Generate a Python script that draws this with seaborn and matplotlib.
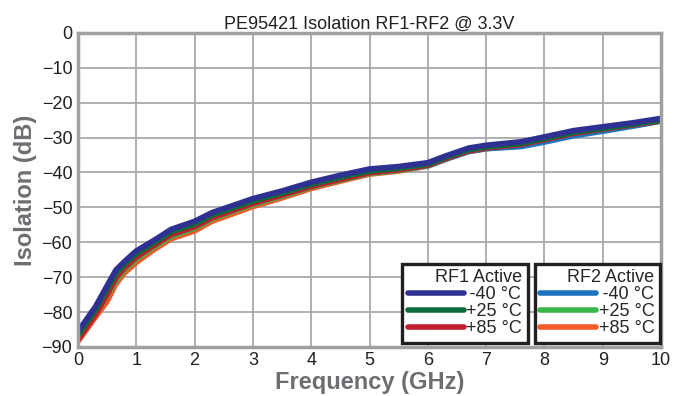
import matplotlib
matplotlib.use("Agg")
import matplotlib.pyplot as plt
from matplotlib.lines import Line2D
import seaborn as sns
import pandas as pd

# frequency points (GHz)
freq = [0, 0.3, 0.5, 0.65, 0.8, 1.0, 1.3, 1.6, 2.0, 2.3, 2.6, 3.0, 3.5, 4.0,
        4.5, 5.0, 5.5, 6.0, 6.3, 6.7, 7.0, 7.6, 8.0, 8.5, 9.0, 9.5, 10.0]

# isolation (dB)
rf1_m40 = [-85.6, -78.5, -72.5, -68.0, -65.5, -62.5, -59.5, -56.3, -54.0, -51.5, -49.8, -47.5, -45.3, -42.8,
           -40.8, -39.0, -38.3, -37.2, -35.3, -33.0, -32.2, -31.2, -29.8, -28.0, -26.9, -25.8, -24.5]
rf1_p25 = [-86.8, -79.5, -73.5, -69.0, -66.3, -63.3, -60.2, -57.0, -54.8, -52.2, -50.5, -48.2, -45.9, -43.4,
           -41.4, -39.6, -38.8, -37.6, -35.7, -33.5, -32.7, -31.7, -30.3, -28.5, -27.4, -26.2, -25.0]
rf1_p85 = [-88.0, -80.8, -75.0, -70.3, -67.3, -64.3, -61.0, -57.8, -55.6, -53.0, -51.2, -48.9, -46.5, -44.0,
           -42.0, -40.1, -39.2, -37.9, -36.0, -33.8, -33.0, -32.0, -30.6, -28.8, -27.6, -26.4, -25.2]
rf2_m40 = [-87.0, -80.0, -74.3, -70.0, -67.0, -64.0, -60.8, -57.8, -55.5, -52.8, -51.0, -48.7, -46.3, -43.8,
           -41.8, -40.0, -39.2, -38.0, -36.2, -34.0, -33.2, -32.6, -31.3, -29.5, -28.2, -26.8, -25.3]
rf2_p25 = [-87.5, -80.5, -75.3, -71.0, -67.8, -64.8, -61.4, -58.3, -56.0, -53.3, -51.5, -49.2, -46.8, -44.2,
           -42.2, -40.3, -39.4, -38.1, -36.2, -33.9, -33.1, -32.3, -31.0, -29.2, -27.9, -26.6, -25.2]
rf2_p85 = [-88.5, -81.5, -77.0, -72.0, -68.8, -65.8, -62.2, -59.0, -56.8, -54.0, -52.2, -49.8, -47.3, -44.6,
           -42.5, -40.5, -39.6, -38.2, -36.3, -34.0, -33.2, -32.2, -30.9, -29.1, -27.8, -26.5, -25.1]

# thin space in front of "-40" so the labels line up on the right like the original
temps = ["\u2009-40 °C", "+25 °C", "+85 °C"]
rf1_colors = ["#2e3192", "#0b6b3a", "#be1e2d"]
rf2_colors = ["#1c75bc", "#39b54a", "#f15a29"]

rows = []
for name, vals in [("RF2 +85", rf2_p85), ("RF2 +25", rf2_p25), ("RF2 -40", rf2_m40),
                   ("RF1 +85", rf1_p85), ("RF1 +25", rf1_p25), ("RF1 -40", rf1_m40)]:
    for f, v in zip(freq, vals):
        rows.append({"freq": f, "iso": v, "series": name})
df = pd.DataFrame(rows)

palette = {"RF2 +85": rf2_colors[2], "RF2 +25": rf2_colors[1], "RF2 -40": rf2_colors[0],
           "RF1 +85": rf1_colors[2], "RF1 +25": rf1_colors[1], "RF1 -40": rf1_colors[0]}

sns.set_theme(style="white")
plt.rcParams["font.family"] = ["Liberation Sans", "DejaVu Sans"]

fig = plt.figure(figsize=(6.83, 3.96), dpi=100)
ax = fig.add_axes([0.114, 0.124, 0.854, 0.793])

sns.lineplot(data=df, x="freq", y="iso", hue="series", palette=palette,
             linewidth=4, legend=False, ax=ax)

ax.set_xlim(0, 10)
ax.set_ylim(-90, 0)
ax.set_xticks(range(0, 11))
ax.set_yticks(range(-90, 1, 10))
ax.grid(True, color="#a7a9ac", linewidth=1.3)
ax.set_axisbelow(True)
for s in ax.spines.values():
    s.set_color("#a0a0a0")
    s.set_linewidth(2.5)
ax.tick_params(axis="both", length=0, labelsize=13, colors="#231f20", pad=4)

ax.set_title("PE95421 Isolation RF1-RF2 @ 3.3V", fontsize=13, color="#231f20", pad=3)
ax.set_xlabel("Frequency (GHz)", fontsize=17, fontweight="bold", color="#6d6e71", labelpad=1)
ax.set_ylabel("Isolation (dB)", fontsize=17, fontweight="bold", color="#6d6e71", labelpad=3)

def make_legend(colors, title, anchor):
    handles = [Line2D([0], [0], color=c, lw=4) for c in colors]
    leg = ax.legend(handles, temps, title=title, loc="lower right",
                    bbox_to_anchor=anchor, fontsize=13, title_fontsize=13,
                    frameon=True, fancybox=False, edgecolor="#231f20",
                    framealpha=1, handlelength=3.1, handletextpad=0.15,
                    labelspacing=0.0, borderpad=0.3, borderaxespad=0,
                    alignment="right")
    leg.get_frame().set_linewidth(2.4)
    return leg

leg1 = make_legend(rf1_colors, "RF1 Active", (0.771, 0.013))
ax.add_artist(leg1)
make_legend(rf2_colors, "RF2 Active", (0.998, 0.013))

fig.savefig("out.png", dpi=100)
